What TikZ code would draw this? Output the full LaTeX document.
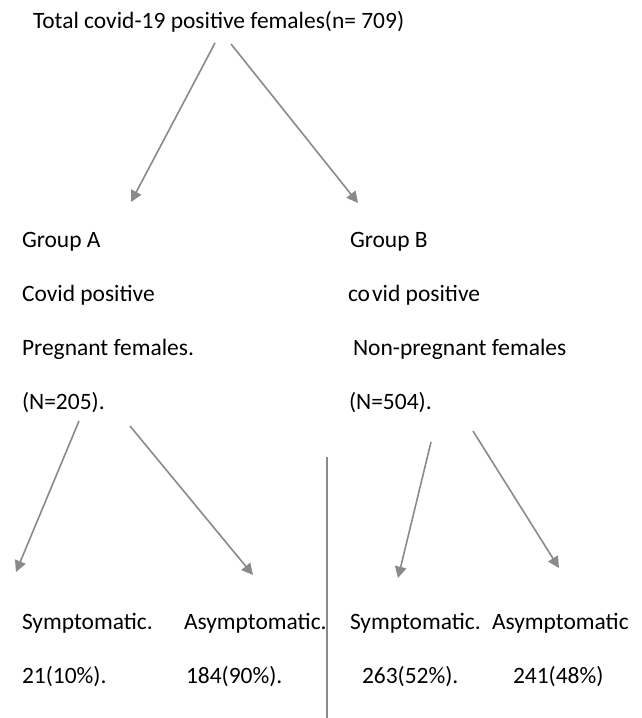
\documentclass[tikz,border=0pt]{standalone}
\usepackage{fontspec}
\setmainfont{Carlito}
\usetikzlibrary{arrows.meta}
\definecolor{arrowgray}{RGB}{138,138,138}
\tikzset{
  lbl/.style={anchor=base west, inner sep=0pt, outer sep=0pt, font=\fontsize{17.6}{21}\selectfont, text=black},
  arr/.style={draw=arrowgray, line width=1.2pt, -{Triangle[length=8.5pt,width=8.5pt]}, fill=arrowgray},
  divider/.style={draw=arrowgray, line width=1.2pt}
}
\begin{document}
\begin{tikzpicture}[x=0.75pt,y=-0.75pt]
\useasboundingbox (0,0) rectangle (642,718);
% title
\node[lbl] (title) at (33,28) {Total covid-19 positive females(n= 709)};
% group A
\node[lbl] (ga1) at (22,247) {Group A};
\node[lbl] (ga2) at (22,301) {Covid positive};
\node[lbl] (ga3) at (22,355) {Pregnant females.};
\node[lbl] (ga4) at (22,409) {(N=205).};
% group B
\node[lbl] (gb1) at (350,247) {Group B};
\node[lbl] (gb2) at (348,301) {co\kern1.5pt vid positive};
\node[lbl] (gb3) at (353,355) {Non-pregnant females};
\node[lbl] (gb4) at (349,409) {(N=504).};
% bottom
\node[lbl] (s1) at (22,629) {Symptomatic.};
\node[lbl] (a1) at (184,629) {Asymptomatic.};
\node[lbl] (s2) at (350,629) {Symptomatic.};
\node[lbl] (a2) at (492,629) {Asymptomatic};
\node[lbl] (n1) at (22,683) {21(10\%).};
\node[lbl] (n2) at (186,683) {184(90\%).};
\node[lbl] (n3) at (362,683) {263(52\%).};
\node[lbl] (n4) at (513,683) {241(48\%)};
% arrow ends
\coordinate (t1s) at (215,43);  \coordinate (t1e) at (131,202);
\coordinate (t2s) at (231,44);  \coordinate (t2e) at (358,203);
\coordinate (a3s) at (79,421);  \coordinate (a3e) at (16,572);
\coordinate (a4s) at (130,426); \coordinate (a4e) at (253,575);
\coordinate (b5s) at (431,442); \coordinate (b5e) at (398,578);
\coordinate (b6s) at (473,431); \coordinate (b6e) at (559,568);
\coordinate (vtop) at (327,457); \coordinate (vbot) at (327,718);
\draw[arr] (t1s) -- (t1e);
\draw[arr] (t2s) -- (t2e);
\draw[arr] (a3s) -- (a3e);
\draw[arr] (a4s) -- (a4e);
\draw[arr] (b5s) -- (b5e);
\draw[arr] (b6s) -- (b6e);
\draw[divider] (vtop) -- (vbot);
\end{tikzpicture}
\end{document}
